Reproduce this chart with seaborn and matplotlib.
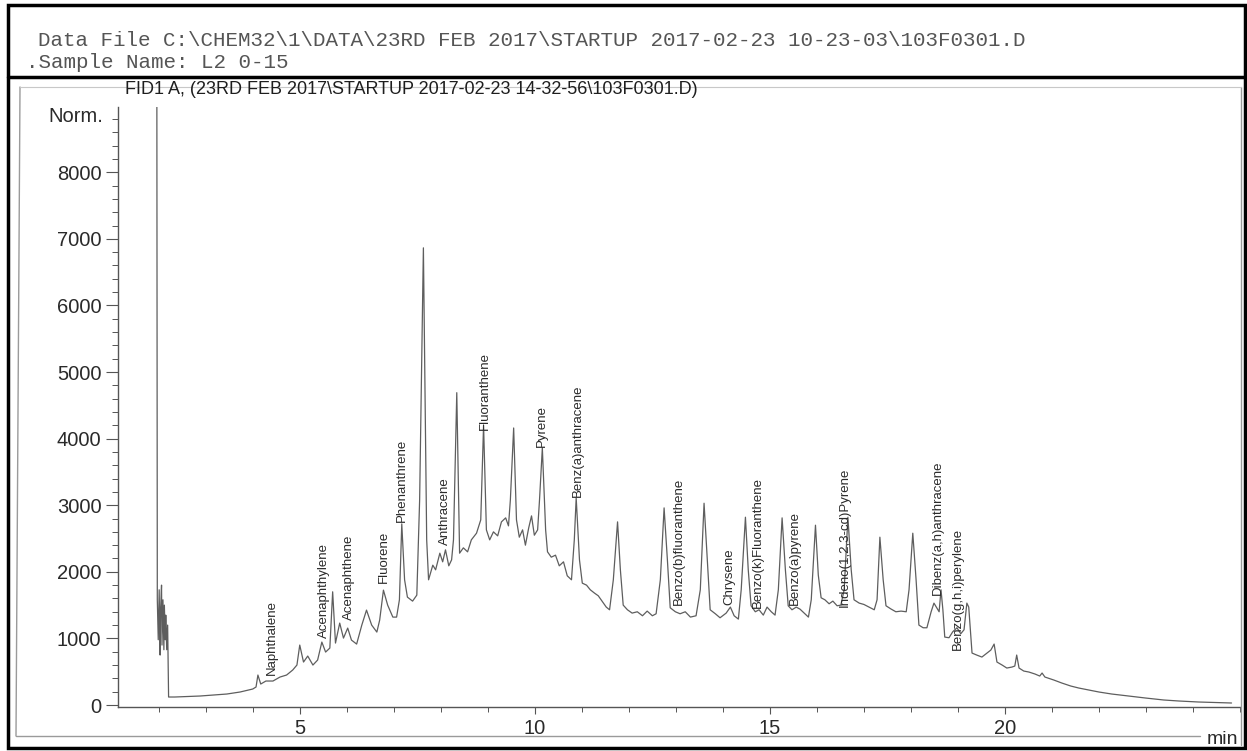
import matplotlib
matplotlib.use("Agg")
import matplotlib.pyplot as plt
from matplotlib.lines import Line2D
from matplotlib.patches import Rectangle
from matplotlib.ticker import MultipleLocator, FixedLocator
import pandas as pd
import seaborn as sns

# ---------------- data ----------------
time_min = [
    1.96, 1.97, 1.99, 2.01, 2.03, 2.04, 2.06, 2.07, 2.09, 2.11, 2.12, 2.14, 2.15, 2.17, 2.19, 2.20, 2.21,
    2.34, 2.88, 3.45, 3.73, 4.00, 4.07, 4.11, 4.17, 4.28, 4.43, 4.58, 4.72, 4.85, 4.94,
    5.00, 5.08, 5.17, 5.28, 5.38, 5.47, 5.55, 5.64, 5.70, 5.76, 5.85, 5.93,
    6.02, 6.10, 6.21, 6.32, 6.42, 6.53, 6.64, 6.70, 6.78, 6.87, 6.98,
    7.06, 7.12, 7.17, 7.23, 7.29, 7.40, 7.49, 7.55, 7.63, 7.70, 7.74, 7.83, 7.89, 7.98,
    8.04, 8.10, 8.17, 8.23, 8.27, 8.34, 8.40, 8.48, 8.57, 8.65, 8.76, 8.85, 8.91, 8.97,
    9.04, 9.12, 9.21, 9.29, 9.38, 9.44, 9.48, 9.55, 9.61, 9.67, 9.74, 9.80, 9.87, 9.93, 9.99,
    10.06, 10.10, 10.16, 10.23, 10.27, 10.35, 10.44, 10.52, 10.61, 10.69, 10.78, 10.84, 10.88, 10.95,
    11.01, 11.10, 11.18, 11.27, 11.35, 11.44, 11.52, 11.59, 11.67, 11.76, 11.82, 11.88, 11.97,
    12.07, 12.18, 12.29, 12.39, 12.50, 12.58, 12.67, 12.75, 12.82, 12.88, 12.99,
    13.09, 13.20, 13.31, 13.43, 13.52, 13.60, 13.67, 13.73, 13.84, 13.94,
    14.07, 14.16, 14.24, 14.33, 14.39, 14.48, 14.54, 14.60, 14.69, 14.77, 14.86, 14.94,
    15.03, 15.11, 15.18, 15.26, 15.33, 15.39, 15.47, 15.56, 15.64, 15.73, 15.82, 15.88, 15.97,
    16.03, 16.09, 16.17, 16.26, 16.34, 16.43, 16.51, 16.58, 16.66, 16.73, 16.79, 16.90,
    17.00, 17.11, 17.22, 17.28, 17.34, 17.41, 17.47, 17.58, 17.68, 17.79, 17.90, 17.96,
    18.04, 18.11, 18.17, 18.26, 18.34, 18.43, 18.49, 18.55, 18.60, 18.64, 18.68, 18.72, 18.81, 18.89, 18.98,
    19.06, 19.13, 19.19, 19.23, 19.30, 19.40, 19.51, 19.62, 19.70, 19.77, 19.83, 19.94,
    20.04, 20.15, 20.21, 20.25, 20.30, 20.40, 20.51, 20.64, 20.74, 20.79, 20.85,
    21.04, 21.21, 21.40, 21.57, 21.78, 22.00, 22.27, 22.63, 22.99, 23.38, 23.70, 24.12, 24.82,
]
signal = [
    9600, 1580, 980, 1730, 750, 1430, 1800, 900, 1580, 830, 1500, 980, 1350, 830, 1200, 680, 120,
    120, 135, 165, 195, 240, 270, 450, 315, 360, 360, 420, 450, 525, 600,
    900, 645, 735, 600, 675, 945, 795, 855, 1700, 930, 1230, 1005,
    1155, 975, 915, 1200, 1425, 1200, 1095, 1275, 1725, 1500, 1320,
    1320, 1580, 2720, 1880, 1620, 1560, 1650, 3080, 6865, 2480, 1880, 2100, 2030, 2280,
    2150, 2330, 2090, 2180, 2480, 4690, 2280, 2360, 2300, 2480, 2580, 2780, 4200, 2630,
    2480, 2600, 2540, 2750, 2810, 2690, 3080, 4160, 2780, 2520, 2630, 2400, 2660, 2840, 2550,
    2630, 3080, 3860, 2630, 2300, 2220, 2250, 2090, 2150, 1940, 1880, 2480, 3110, 2180,
    1830, 1800, 1730, 1680, 1640, 1550, 1470, 1430, 1880, 2750, 2030, 1500, 1430,
    1380, 1400, 1340, 1410, 1340, 1370, 1880, 2960, 2180, 1460, 1400,
    1370, 1400, 1320, 1340, 1730, 3030, 2180, 1430, 1370, 1310,
    1380, 1470, 1340, 1290, 1730, 2820, 2030, 1490, 1400, 1430, 1350, 1470,
    1400, 1350, 1730, 2810, 2030, 1490, 1430, 1470, 1440, 1380, 1320, 1580, 2700,
    1950, 1610, 1580, 1520, 1560, 1490, 1500, 1730, 2820, 2030, 1580, 1530,
    1510, 1470, 1430, 1580, 2520, 1880, 1490, 1440, 1400, 1410, 1400, 1730,
    2580, 1880, 1200, 1160, 1160, 1400, 1530, 1460, 1400, 1730, 1430, 1020, 1010, 1100, 1160,
    1070, 1130, 1530, 1470, 780, 750, 720, 780, 825, 915, 645, 600,
    555, 570, 585, 750, 555, 510, 495, 465, 435, 480, 420,
    375, 330, 285, 255, 225, 195, 165, 135, 105, 75, 60, 45, 30,
]

peak_names = [
    "Naphthalene", "Acenaphthylene", "Acenaphthene", "Fluorene", "Phenanthrene",
    "Anthracene", "Fluoranthene", "Pyrene", "Benz(a)anthracene", "Benzo(b)fluoranthene",
    "Chrysene", "Benzo(k)Fluoranthene", "Benzo(a)pyrene", "Indeno(1,2,3-cd)Pyrene",
    "Dibenz(a,h)anthracene", "Benzo(g,h,i)perylene",
]
label_time = [4.41, 5.51, 6.04, 6.78, 7.17, 8.08, 8.93, 10.16, 10.91, 13.07,
              14.14, 14.75, 15.54, 16.60, 18.58, 19.00]
label_base = [450, 1005, 1275, 1830, 2750, 2400, 4130, 3880, 3125, 1500,
              1500, 1455, 1500, 1470, 1650, 825]

x_major = [5, 10, 15, 20]
y_major = [0, 1000, 2000, 3000, 4000, 5000, 6000, 7000, 8000]

header_line1 = r"Data File C:\CHEM32\1\DATA\23RD FEB 2017\STARTUP 2017-02-23 10-23-03\103F0301.D"
header_line2 = r".Sample Name: L2 0-15"
signal_title = r"FID1 A, (23RD FEB 2017\STARTUP 2017-02-23 14-32-56\103F0301.D)"

# ---------------- drawing ----------------
W, H = 1247, 751
sns.set_theme(style="white")
plt.rcParams['font.family'] = ['Liberation Sans', 'DejaVu Sans']

fig = plt.figure(figsize=(W / 100, H / 100), dpi=100)
fig.patch.set_facecolor('white')


def fx(px):
    return px / W


def fy(py):
    return 1 - py / H


ax = fig.add_axes([fx(118), fy(707), fx(1240) - fx(118), fy(107) - fy(707)])
ax.set_facecolor('none')

df = pd.DataFrame({'time': time_min, 'signal': signal})
sns.lineplot(data=df, x='time', y='signal', ax=ax, color='#5e5e5e',
             linewidth=0.9, estimator=None, sort=False)

ax.set_xlim(1.134, 25.0)
ax.set_ylim(-30, 8980)
ax.set_xlabel('')
ax.set_ylabel('')

for s in ['top', 'right']:
    ax.spines[s].set_visible(False)
for s in ['left', 'bottom']:
    ax.spines[s].set_color('#555555')
    ax.spines[s].set_linewidth(1.0)

ax.xaxis.set_major_locator(FixedLocator(x_major))
ax.xaxis.set_minor_locator(MultipleLocator(1))
ax.yaxis.set_major_locator(FixedLocator(y_major))
ax.yaxis.set_minor_locator(MultipleLocator(200))

ax.tick_params(axis='y', which='major', direction='out', length=9.0, width=0.8,
               color='#555555', labelsize=14.5, labelcolor='#2a2a2a', pad=3, left=True)
ax.tick_params(axis='y', which='minor', direction='out', length=4.3, width=0.7,
               color='#555555', left=True)
ax.tick_params(axis='x', which='major', direction='out', length=5.0, width=0.8,
               color='#555555', labelsize=14.5, labelcolor='#2a2a2a', pad=4, bottom=True)
ax.tick_params(axis='x', which='minor', direction='out', length=3.6, width=0.7,
               color='#555555', bottom=True)

for name, t, b in zip(peak_names, label_time, label_base):
    ax.text(t, b, name, rotation=90, ha='center', va='bottom', fontsize=9.5,
            color='#2a2a2a')

# texts around the axes
fig.text(fx(103), fy(117), 'Norm.', ha='right', va='center', fontsize=14.5, color='#2a2a2a')
fig.text(fx(1238), fy(739), 'min', ha='right', va='center', fontsize=14, color='#2a2a2a')
fig.text(fx(125), fy(89), signal_title, ha='left', va='center', fontsize=13, color='#1e1e1e')
fig.text(fx(38), fy(41), header_line1, ha='left', va='center', fontsize=15,
         color='#555555', family=['Liberation Mono', 'DejaVu Sans Mono'])
fig.text(fx(26), fy(63), header_line2, ha='left', va='center', fontsize=15,
         color='#555555', family=['Liberation Mono', 'DejaVu Sans Mono'])

# page frame (decoration)
fig.add_artist(Rectangle((fx(8), fy(748)), fx(1245) - fx(8), fy(5) - fy(748),
                         fill=False, edgecolor='black', linewidth=2.5,
                         transform=fig.transFigure))
fig.add_artist(Line2D([fx(8), fx(1245)], [fy(77), fy(77)], color='black', linewidth=2.5,
                      transform=fig.transFigure))
gray = '#9a9a9a'
fig.add_artist(Line2D([fx(16), fx(20)], [fy(736), fy(87)], color=gray, linewidth=1.0,
                      transform=fig.transFigure))
fig.add_artist(Line2D([fx(16), fx(1200)], [fy(736), fy(736)], color=gray, linewidth=1.0,
                      transform=fig.transFigure))
fig.add_artist(Line2D([fx(1241), fx(1241)], [fy(87), fy(745)], color=gray, linewidth=1.0,
                      transform=fig.transFigure))
fig.add_artist(Line2D([fx(20), fx(1241)], [fy(87), fy(87)], color='#c8c8c8', linewidth=0.8,
                      transform=fig.transFigure))

fig.savefig('out.png', dpi=100)
